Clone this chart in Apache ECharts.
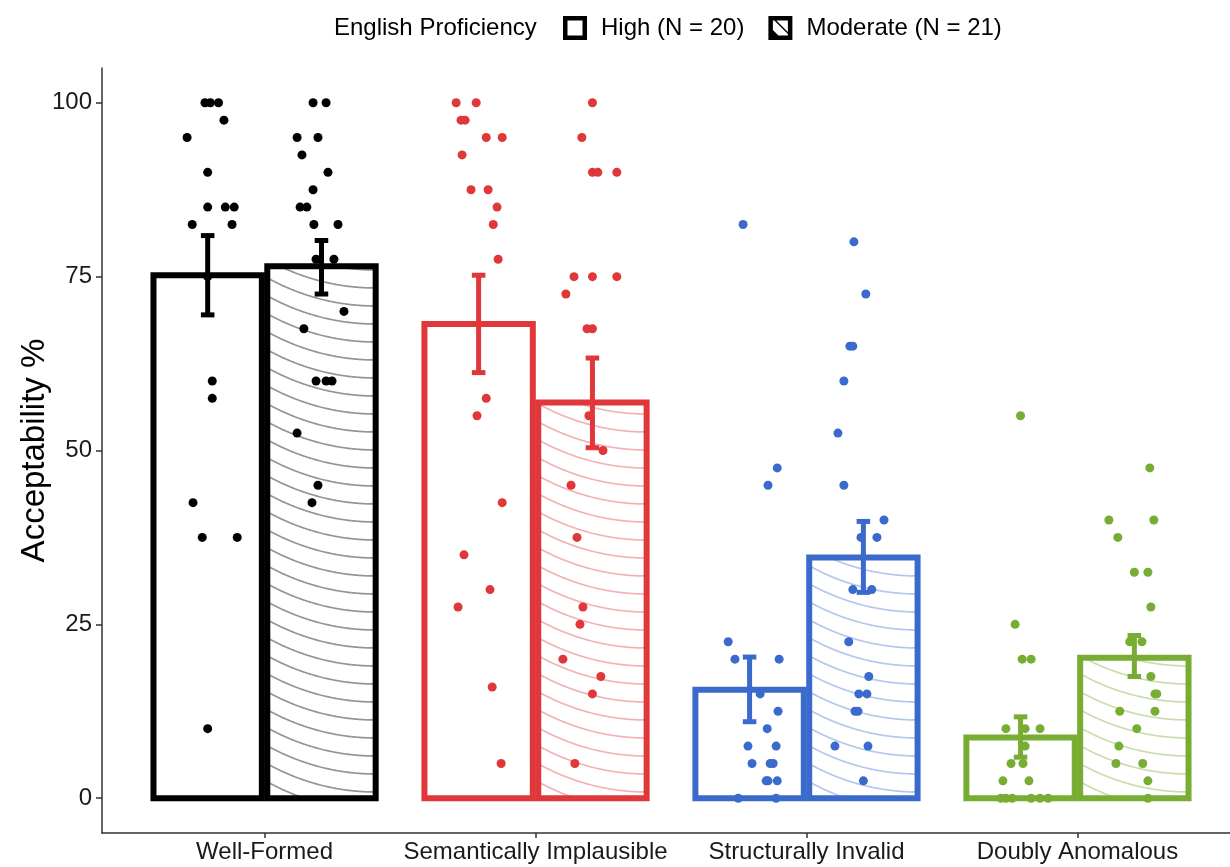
<!DOCTYPE html>
<html>
<head>
<meta charset="utf-8">
<script src="https://cdn.jsdelivr.net/npm/echarts@6/dist/echarts.min.js"></script>
<style>
html,body{margin:0;padding:0;background:#fff;}
#chart{width:1230px;height:867px;}
</style>
</head>
<body>
<div id="chart"></div>
<script>
// ---------------- data ----------------
const categories = ['Well-Formed', 'Semantically Implausible', 'Structurally Invalid', 'Doubly Anomalous'];
const groupNames = ['High (N = 20)', 'Moderate (N = 21)'];
const yTicks = [0, 25, 50, 75, 100];

const highMean = [75.2, 68.2, 15.6, 8.75];
const highLow  = [69.5, 61.2, 11.0, 5.9];
const highHigh = [80.9, 75.2, 20.3, 11.7];
const modMean  = [76.5, 56.9, 34.6, 20.2];
const modLow   = [72.5, 50.4, 29.6, 17.5];
const modHigh  = [80.2, 63.3, 39.8, 23.4];

// individual participant scores and their horizontal jitter (category units)
const wfHighVals = [100,100,100,97.5,95,90,85,85,85,82.5,82.5,75,60,57.5,42.5,37.5,37.5,10];
const wfHighJit  = [-0.01,0.01,0.04,0.06,-0.076,0,0,0.065,0.098,-0.057,0.09,0,0.017,0.017,-0.054,-0.02,0.109,0];
const wfModVals  = [100,100,95,95,92.5,90,87.5,85,85,82.5,82.5,77.5,77.5,70,67.5,60,60,60,52.5,45,42.5];
const wfModJit   = [-0.031,0.017,-0.09,-0.013,-0.072,0.024,-0.031,-0.079,-0.054,-0.028,0.061,-0.02,0.046,0.083,-0.065,-0.02,0.017,0.039,-0.09,-0.013,-0.035];
const siHighVals = [100,100,97.5,97.5,95,95,92.5,87.5,87.5,85,82.5,77.5,57.5,55,42.5,35,30,27.5,16,5];
const siHighJit  = [-0.083,-0.009,-0.065,-0.05,0.028,0.087,-0.061,-0.028,0.035,0.068,0.054,0.072,0.028,-0.006,0.087,-0.054,0.042,-0.076,0.05,0.083];
const siModVals  = [100,95,90,90,90,75,75,75,72.5,67.5,67.5,55,50,45,37.5,27.5,25,20,17.5,15,5];
const siModJit   = [0,-0.039,0,0.02,0.09,-0.068,0,0.09,-0.098,-0.02,0,-0.013,0.039,-0.079,-0.057,-0.035,-0.046,-0.109,0.031,0,-0.065];
const sivHighVals = [82.5,47.5,45,22.5,20,20,15,12.5,10,7.5,7.5,5,5,5,2.5,2.5,2.5,0,0];
const sivHighJit  = [-0.024,0.102,0.068,-0.079,-0.054,0.109,0.039,0.105,0.065,-0.006,0.098,0.009,0.076,0.087,0.061,0.068,0.102,-0.042,0.098];
const sivModVals  = [80,72.5,65,65,60,52.5,45,40,37.5,37.5,30,30,22.5,17.5,15,15,12.5,12.5,7.5,7.5,2.5];
const sivModJit   = [-0.035,0.009,-0.05,-0.039,-0.072,-0.094,-0.072,0.076,-0.009,0.05,-0.039,0.031,-0.054,0.02,-0.017,0.013,-0.031,-0.02,-0.105,0.017,0];
const daHighVals = [55,25,20,20,10,10,10,7.5,5,5,2.5,2.5,0,0,0,0,0,0];
const daHighJit  = [0,-0.02,0.006,0.039,-0.054,0.017,0.072,0.017,-0.035,0.009,-0.065,0.031,-0.072,-0.054,-0.031,0.039,0.072,0.102];
const daModVals  = [47.5,40,40,37.5,32.5,32.5,27.5,22.5,22.5,17.5,15,15,12.5,12.5,10,7.5,5,5,2.5,0];
const daModJit   = [0.057,-0.094,0.072,-0.061,0,0.05,0.061,-0.017,0.028,0.061,0.076,0.083,-0.054,0.076,0.009,-0.057,-0.068,0.031,0.05,0.05];

// ---------------- styling ----------------
const catColors = ['#000000', '#E0373A', '#3A6BCC', '#78AD34'];
const patternColors = ['rgba(0,0,0,0.42)', 'rgba(224,55,58,0.38)', 'rgba(58,107,204,0.38)', 'rgba(120,173,52,0.4)'];
const FONT = 'Liberation Sans, Arial, sans-serif';
const BAR_W = 0.4, DODGE = 0.21, ERR_W = 0.05;

const highPts = [[wfHighVals, wfHighJit], [siHighVals, siHighJit], [sivHighVals, sivHighJit], [daHighVals, daHighJit]];
const modPts  = [[wfModVals, wfModJit], [siModVals, siModJit], [sivModVals, sivModJit], [daModVals, daModJit]];

function renderBar(dodge, patterned) {
  return function (params, api) {
    const i = params.dataIndex;
    const cat = api.value(0), m = api.value(1);
    const p0 = api.coord([cat + dodge - BAR_W / 2, m]);
    const p1 = api.coord([cat + dodge + BAR_W / 2, 0]);
    const x0 = p0[0], y0 = p0[1], x1 = p1[0], y1 = p1[1];
    const children = [];
    if (patterned) {
      const S = 18, R = 222, w = x1 - x0;
      const drop = R - Math.sqrt(R * R - w * w);
      const start = Math.floor(y0 / S) * S;
      for (let yb = start; yb <= y1 + drop + S; yb += S) {
        const pts = [];
        for (let x = x0; x <= x1 + 0.01; x += 1) {
          const dx = x1 - x;
          const y = yb - (R - Math.sqrt(R * R - dx * dx));
          if (y >= y0 && y <= y1) pts.push([x, y]);
        }
        if (pts.length > 1) {
          children.push({ type: 'polyline', shape: { points: pts },
            style: { stroke: patternColors[i], lineWidth: 1.7, fill: 'none' } });
        }
      }
    }
    children.push({ type: 'rect', shape: { x: x0, y: y0, width: x1 - x0, height: y1 - y0 },
      style: { fill: 'none', stroke: catColors[i], lineWidth: 6, lineJoin: 'miter' } });
    return { type: 'group', children: children };
  };
}

function renderErr(dodge) {
  return function (params, api) {
    const i = params.dataIndex;
    const cat = api.value(0);
    const lo = api.coord([cat + dodge, api.value(1)]);
    const hi = api.coord([cat + dodge, api.value(2)]);
    const half = api.size([ERR_W, 0])[0] / 2;
    const st = { stroke: catColors[i], lineWidth: 5, lineCap: 'butt', fill: 'none' };
    return { type: 'group', children: [
      { type: 'line', shape: { x1: lo[0], y1: lo[1], x2: hi[0], y2: hi[1] }, style: st },
      { type: 'line', shape: { x1: lo[0] - half, y1: lo[1], x2: lo[0] + half, y2: lo[1] }, style: st },
      { type: 'line', shape: { x1: hi[0] - half, y1: hi[1], x2: hi[0] + half, y2: hi[1] }, style: st }
    ] };
  };
}

const series = [];
series.push({
  name: groupNames[0], type: 'custom', z: 2, silent: true,
  itemStyle: { color: '#000' },
  encode: { x: 0, y: 1 },
  data: highMean.map((m, i) => [i + 1, m]),
  renderItem: renderBar(-DODGE, false)
});
series.push({
  name: groupNames[1], type: 'custom', z: 2, silent: true,
  itemStyle: { color: '#000' },
  encode: { x: 0, y: 1 },
  data: modMean.map((m, i) => [i + 1, m]),
  renderItem: renderBar(DODGE, true)
});
[[highPts, -DODGE], [modPts, DODGE]].forEach(function (g, gi) {
  g[0].forEach(function (pair, ci) {
    series.push({
      name: 'pts-' + gi + '-' + ci, type: 'scatter', z: 3, silent: true,
      symbolSize: 9,
      itemStyle: { color: catColors[ci], opacity: 1 },
      data: pair[0].map((v, j) => [ci + 1 + g[1] + pair[1][j], v])
    });
  });
});
series.push({
  name: 'err-high', type: 'custom', z: 4, silent: true,
  encode: { x: 0, y: [1, 2] },
  data: highLow.map((l, i) => [i + 1, l, highHigh[i]]),
  renderItem: renderErr(-DODGE)
});
series.push({
  name: 'err-mod', type: 'custom', z: 4, silent: true,
  encode: { x: 0, y: [1, 2] },
  data: modLow.map((l, i) => [i + 1, l, modHigh[i]]),
  renderItem: renderErr(DODGE)
});

const iconHigh = 'path://M0,0L24,0L24,24L0,24Z M4.5,4.5L4.5,19.5L19.5,19.5L19.5,4.5Z';
const iconMod = 'path://M0,0L24,0L24,24L0,24Z M4.5,4.5L4.5,19.5L19.5,19.5L19.5,4.5Z M6,4.5L8,4.5L19.5,16L19.5,18Z M4.5,14L10,19.5L4.5,19.5Z';

const chart = echarts.init(document.getElementById('chart'), null, { renderer: 'canvas' });
chart.setOption({
  animation: false,
  backgroundColor: '#ffffff',
  textStyle: { fontFamily: FONT },
  title: {
    text: 'English Proficiency', left: 334, top: 16, padding: 0,
    textStyle: { fontFamily: FONT, fontSize: 24, fontWeight: 'normal', color: '#000', lineHeight: 24 }
  },
  legend: {
    left: 563, top: 16, padding: 0,
    selectedMode: false,
    itemWidth: 42, itemHeight: 24, itemGap: 24,
    symbolKeepAspect: true,
    textStyle: { fontFamily: FONT, fontSize: 24, color: '#000', lineHeight: 24 },
    data: [
      { name: groupNames[0], icon: iconHigh, itemStyle: { color: '#000', borderWidth: 0 } },
      { name: groupNames[1], icon: iconMod, itemStyle: { color: '#000', borderWidth: 0 } }
    ]
  },
  grid: { left: 102, right: 0, top: 68, bottom: 34, containLabel: false, outerBoundsMode: 'none' },
  xAxis: {
    type: 'value', min: 0.4, max: 4.563,
    axisLine: { show: true, onZero: false, lineStyle: { color: '#333', width: 1.5 } },
    axisTick: { show: true, length: 5, customValues: [1, 2, 3, 4], lineStyle: { color: '#333', width: 1.5 } },
    axisLabel: {
      customValues: [1, 2, 3, 4], margin: 7,
      fontFamily: FONT, fontSize: 24, color: '#1a1a1a',
      formatter: function (v) { return categories[Math.round(v) - 1] || ''; }
    },
    splitLine: { show: false }
  },
  yAxis: {
    type: 'value', min: -5, max: 105,
    name: 'Acceptability %', nameLocation: 'middle', nameGap: 51, nameMoveOverlap: false,
    nameTextStyle: { fontFamily: FONT, fontSize: 33, color: '#000' },
    axisLine: { show: true, onZero: false, lineStyle: { color: '#333', width: 1.5 } },
    axisTick: { show: true, length: 6, customValues: yTicks, lineStyle: { color: '#333', width: 1.5 } },
    axisLabel: { customValues: yTicks, margin: 10, fontFamily: FONT, fontSize: 24, color: '#1a1a1a' },
    splitLine: { show: false }
  },
  series: series
});
</script>
</body>
</html>
